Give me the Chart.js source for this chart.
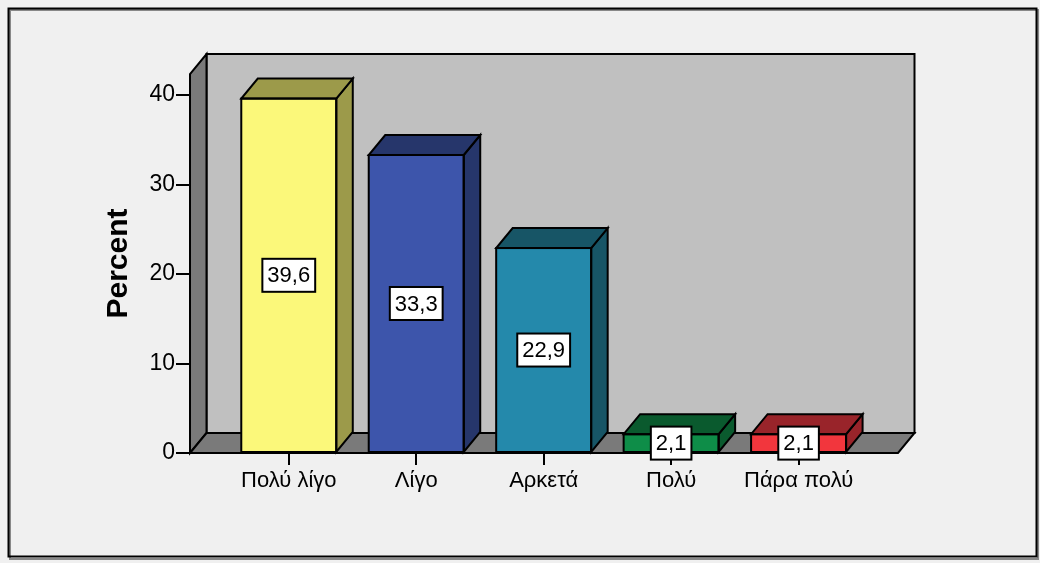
<!DOCTYPE html>
<html>
<head>
<meta charset="utf-8">
<script src="https://cdn.jsdelivr.net/npm/chart.js@4.4.1/dist/chart.umd.min.js"></script>
<style>
  html, body { margin: 0; padding: 0; background: #f0f0f0; }
  canvas { display: block; }
</style>
</head>
<body>
<canvas id="grafico" width="1040" height="563"></canvas>
<script>
// dados
const categorias = ['Πολύ λίγο', 'Λίγο', 'Αρκετά', 'Πολύ', 'Πάρα πολύ'];
const percentagens = [39.6, 33.3, 22.9, 2.1, 2.1];
const yTicks = [0, 10, 20, 30, 40];
const coresFrente = ['#fbf87a', '#3d55ab', '#2489ab', '#0e8d48', '#f2363d'];
const coresEscuras = ['#9c9a4a', '#26366b', '#175566', '#0a5a2e', '#99242a'];

// profundidade do efeito 3D
const DX = 16.5;
const DY = -20;

function poly(ctx, pts, fill) {
  ctx.beginPath();
  ctx.moveTo(pts[0][0], pts[0][1]);
  for (let i = 1; i < pts.length; i++) ctx.lineTo(pts[i][0], pts[i][1]);
  ctx.closePath();
  ctx.fillStyle = fill;
  ctx.fill();
  ctx.stroke();
}

const fundo3d = {
  id: 'fundo3d',
  beforeDraw(chart) {
    const ctx = chart.ctx;
    const a = chart.chartArea;
    ctx.save();
    ctx.fillStyle = '#f0f0f0';
    ctx.fillRect(0, 0, chart.width, chart.height);
    // moldura
    ctx.strokeStyle = '#888';
    ctx.lineWidth = 2;
    ctx.strokeRect(10, 10, 1028, 549);
    ctx.strokeStyle = '#000';
    ctx.strokeRect(8.5, 8.5, 1028, 548);

    ctx.lineWidth = 2;
    ctx.lineJoin = 'miter';
    ctx.strokeStyle = '#000';
    // parede de trás
    poly(ctx, [[a.left + DX, a.top + DY], [a.right + DX, a.top + DY],
               [a.right + DX, a.bottom + DY], [a.left + DX, a.bottom + DY]], '#c0c0c0');
    // parede lateral
    poly(ctx, [[a.left, a.bottom], [a.left, a.top], [a.left + DX, a.top + DY],
               [a.left + DX, a.bottom + DY]], '#7a7a7a');
    // chão
    poly(ctx, [[a.left, a.bottom], [a.right, a.bottom], [a.right + DX, a.bottom + DY],
               [a.left + DX, a.bottom + DY]], '#7a7a7a');
    ctx.restore();
  }
};

const barras3d = {
  id: 'barras3d',
  afterDatasetsDraw(chart) {
    const ctx = chart.ctx;
    const meta = chart.getDatasetMeta(0);
    ctx.save();
    ctx.lineWidth = 2;
    ctx.strokeStyle = '#000';
    ctx.lineJoin = 'miter';
    meta.data.forEach((bar, i) => {
      const p = bar.getProps(['x', 'y', 'base', 'width'], true);
      const l = p.x - p.width / 2;
      const r = p.x + p.width / 2;
      const top = p.y;
      const base = p.base;
      const escura = coresEscuras[i];
      // lado
      poly(ctx, [[r, top], [r + DX, top + DY], [r + DX, base + DY], [r, base]], escura);
      // topo
      poly(ctx, [[l, top], [r, top], [r + DX, top + DY], [l + DX, top + DY]], escura);
      // frente (contorno)
      ctx.strokeRect(l, top, r - l, base - top);
    });
    // rótulos
    ctx.font = '22px "Liberation Sans", Arial, sans-serif';
    ctx.textAlign = 'center';
    ctx.textBaseline = 'middle';
    meta.data.forEach((bar, i) => {
      const p = bar.getProps(['x', 'y', 'base'], true);
      const txt = percentagens[i].toFixed(1).replace('.', ',');
      const w = ctx.measureText(txt).width + 10;
      const h = 33;
      const cy = (p.y + p.base) / 2;
      ctx.fillStyle = '#fff';
      ctx.fillRect(p.x - w / 2, cy - h / 2, w, h);
      ctx.strokeRect(p.x - w / 2, cy - h / 2, w, h);
      ctx.fillStyle = '#000';
      ctx.fillText(txt, p.x, cy + 1);
    });
    ctx.restore();
  }
};

new Chart(document.getElementById('grafico').getContext('2d'), {
  type: 'bar',
  data: {
    datasets: [{
      label: 'Percent',
      data: percentagens.map((v, i) => ({ x: i, y: v })),
      backgroundColor: coresFrente,
      borderColor: '#000',
      borderWidth: 0,
      barThickness: 95
    }]
  },
  options: {
    responsive: false,
    animation: false,
    layout: {
      padding: { left: 97, right: 142, top: 74, bottom: 0 }
    },
    plugins: {
      legend: { display: false },
      tooltip: { enabled: false }
    },
    scales: {
      x: {
        type: 'linear',
        min: -0.775,
        max: 4.78,
        offset: false,
        afterBuildTicks: scale => { scale.ticks = categorias.map((c, i) => ({ value: i })); },
        afterFit: scale => { scale.height = 110; },
        grid: {
          offset: false,
          drawOnChartArea: false,
          drawTicks: true,
          tickLength: 12,
          color: '#000',
          lineWidth: 2
        },
        border: { display: false },
        ticks: {
          autoSkip: false,
          maxRotation: 0,
          padding: 3,
          color: '#000',
          font: { family: '"Liberation Sans", Arial, sans-serif', size: 22 },
          callback: v => categorias[v]
        }
      },
      y: {
        min: 0,
        max: 42.35,
        afterBuildTicks: scale => { scale.ticks = yTicks.map(v => ({ value: v })); },
        afterFit: scale => { scale.width = 93; },
        grid: {
          drawOnChartArea: false,
          drawTicks: true,
          tickLength: 14,
          color: '#000',
          lineWidth: 2
        },
        border: { display: false },
        ticks: {
          padding: 1,
          color: '#000',
          font: { family: '"Liberation Sans", Arial, sans-serif', size: 23 }
        },
        title: {
          display: true,
          text: 'Percent',
          color: '#000',
          font: { family: '"Liberation Sans", Arial, sans-serif', size: 30, weight: 'bold' }
        }
      }
    }
  },
  plugins: [fundo3d, barras3d]
});
</script>
</body>
</html>
